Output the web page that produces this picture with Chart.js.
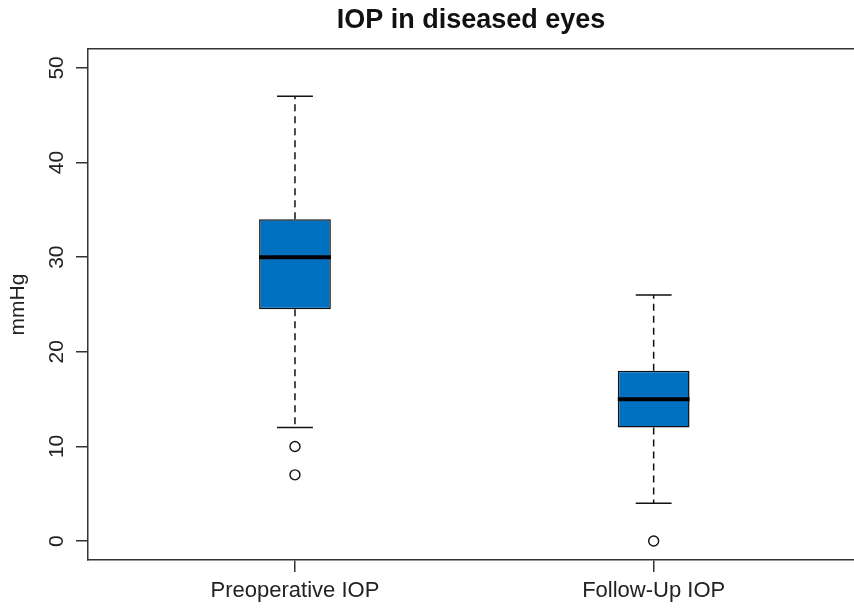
<!DOCTYPE html>
<html>
<head>
<meta charset="utf-8">
<title>IOP in diseased eyes</title>
<script src="https://cdn.jsdelivr.net/npm/chart.js@4.4.1/dist/chart.umd.min.js"></script>
<style>
  html, body { margin: 0; padding: 0; background: #fff; overflow: hidden; }
  canvas { display: block; }
</style>
</head>
<body>
<canvas id="box" width="854" height="608"></canvas>
<script>
// Boxplot summaries per group (mmHg)
const groups = ['Preoperative IOP', 'Follow-Up IOP'];
const whiskerLow = [12, 4];
const q1 = [24.5, 12];
const median = [30, 15];
const q3 = [34, 18];
const whiskerHigh = [47, 26];
const outliers = [[10, 7], [0]];
const yTicks = [0, 10, 20, 30, 40, 50];

const BOX_HALF = 0.1;  // half box width in x units
const CAP_HALF = 0.05; // half staple width
const X_MIN = 0.423, X_MAX = 2.5585;

const ink = '#222';
const axisCol = '#333';
Chart.defaults.font.family = '"Liberation Sans", Arial, Helvetica, sans-serif';
Chart.defaults.color = ink;

// line segments, a null y breaks the line between them
const medianPts = [], whiskerPts = [], capPts = [], outlierPts = [];
groups.forEach((g, i) => {
  const x = i + 1;
  medianPts.push({x: x - BOX_HALF, y: median[i]}, {x: x + BOX_HALF, y: median[i]}, {x: x, y: null});
  whiskerPts.push({x: x, y: q3[i]}, {x: x, y: whiskerHigh[i]}, {x: x, y: null});
  whiskerPts.push({x: x, y: q1[i]}, {x: x, y: whiskerLow[i]}, {x: x, y: null});
  capPts.push({x: x - CAP_HALF, y: whiskerHigh[i]}, {x: x + CAP_HALF, y: whiskerHigh[i]}, {x: x, y: null});
  capPts.push({x: x - CAP_HALF, y: whiskerLow[i]}, {x: x + CAP_HALF, y: whiskerLow[i]}, {x: x, y: null});
  outliers[i].forEach(v => outlierPts.push({x: x, y: v}));
});

const lineDefaults = {type: 'line', pointRadius: 0, spanGaps: false, fill: false, tension: 0};

new Chart(document.getElementById('box'), {
  type: 'bar',
  data: {
    datasets: [
      {
        type: 'scatter',
        data: outlierPts,
        pointStyle: 'circle',
        pointRadius: 5,
        pointBackgroundColor: '#fff',
        pointBorderColor: '#111',
        pointBorderWidth: 1.4
      },
      Object.assign({}, lineDefaults, {data: medianPts, borderColor: '#000', borderWidth: 4}),
      Object.assign({}, lineDefaults, {data: capPts, borderColor: '#111', borderWidth: 1.5}),
      Object.assign({}, lineDefaults, {data: whiskerPts, borderColor: '#111', borderWidth: 1.5, borderDash: [7, 5]}),
      {
        type: 'bar',
        data: groups.map((g, i) => ({x: i + 1, y: [q1[i], q3[i]]})),
        backgroundColor: '#0070C0',
        borderColor: '#111',
        borderWidth: 1.5,
        borderSkipped: false,
        categoryPercentage: 1,
        barPercentage: 2 * BOX_HALF
      }
    ]
  },
  options: {
    responsive: false,
    animation: false,
    layout: {padding: 0, autoPadding: false},
    plugins: {
      legend: {display: false},
      tooltip: {enabled: false},
      title: {
        display: true,
        text: 'IOP in diseased eyes',
        fullSize: false,
        color: '#111',
        font: {size: 27, weight: 'bold'},
        padding: {top: 4, bottom: 12.6}
      }
    },
    scales: {
      x: {
        type: 'linear',
        position: 'bottom',
        offset: false,
        min: X_MIN,
        max: X_MAX,
        afterBuildTicks: axis => { axis.ticks = groups.map((g, i) => ({value: i + 1})); },
        afterFit: axis => { axis.height = 48; axis.paddingRight = 0; axis.paddingLeft = 0; },
        ticks: {
          callback: v => groups[v - 1],
          autoSkip: false,
          maxRotation: 0,
          padding: 6,
          font: {size: 22}
        },
        grid: {offset: false, drawOnChartArea: false, tickLength: 12, color: axisCol, lineWidth: 1.5},
        border: {color: axisCol, width: 1.5}
      },
      xTop: {
        type: 'linear',
        position: 'top',
        offset: false,
        min: X_MIN,
        max: X_MAX,
        afterFit: axis => { axis.height = 0; axis.paddingRight = 0; axis.paddingLeft = 0; },
        ticks: {display: false},
        grid: {display: false, drawTicks: false},
        border: {color: axisCol, width: 1.5}
      },
      y: {
        min: -2,
        max: 52,
        afterBuildTicks: axis => { axis.ticks = yTicks.map(v => ({value: v})); },
        afterFit: axis => { axis.width = 88; },
        ticks: {
          minRotation: 90,
          maxRotation: 90,
          crossAlign: 'center',
          padding: 7,
          font: {size: 21}
        },
        grid: {drawOnChartArea: false, tickLength: 12, color: axisCol, lineWidth: 1.5},
        border: {color: axisCol, width: 1.5},
        title: {display: true, text: 'mmHg', font: {size: 21}, padding: {top: 6, bottom: 4}}
      }
    }
  }
});
</script>
</body>
</html>
